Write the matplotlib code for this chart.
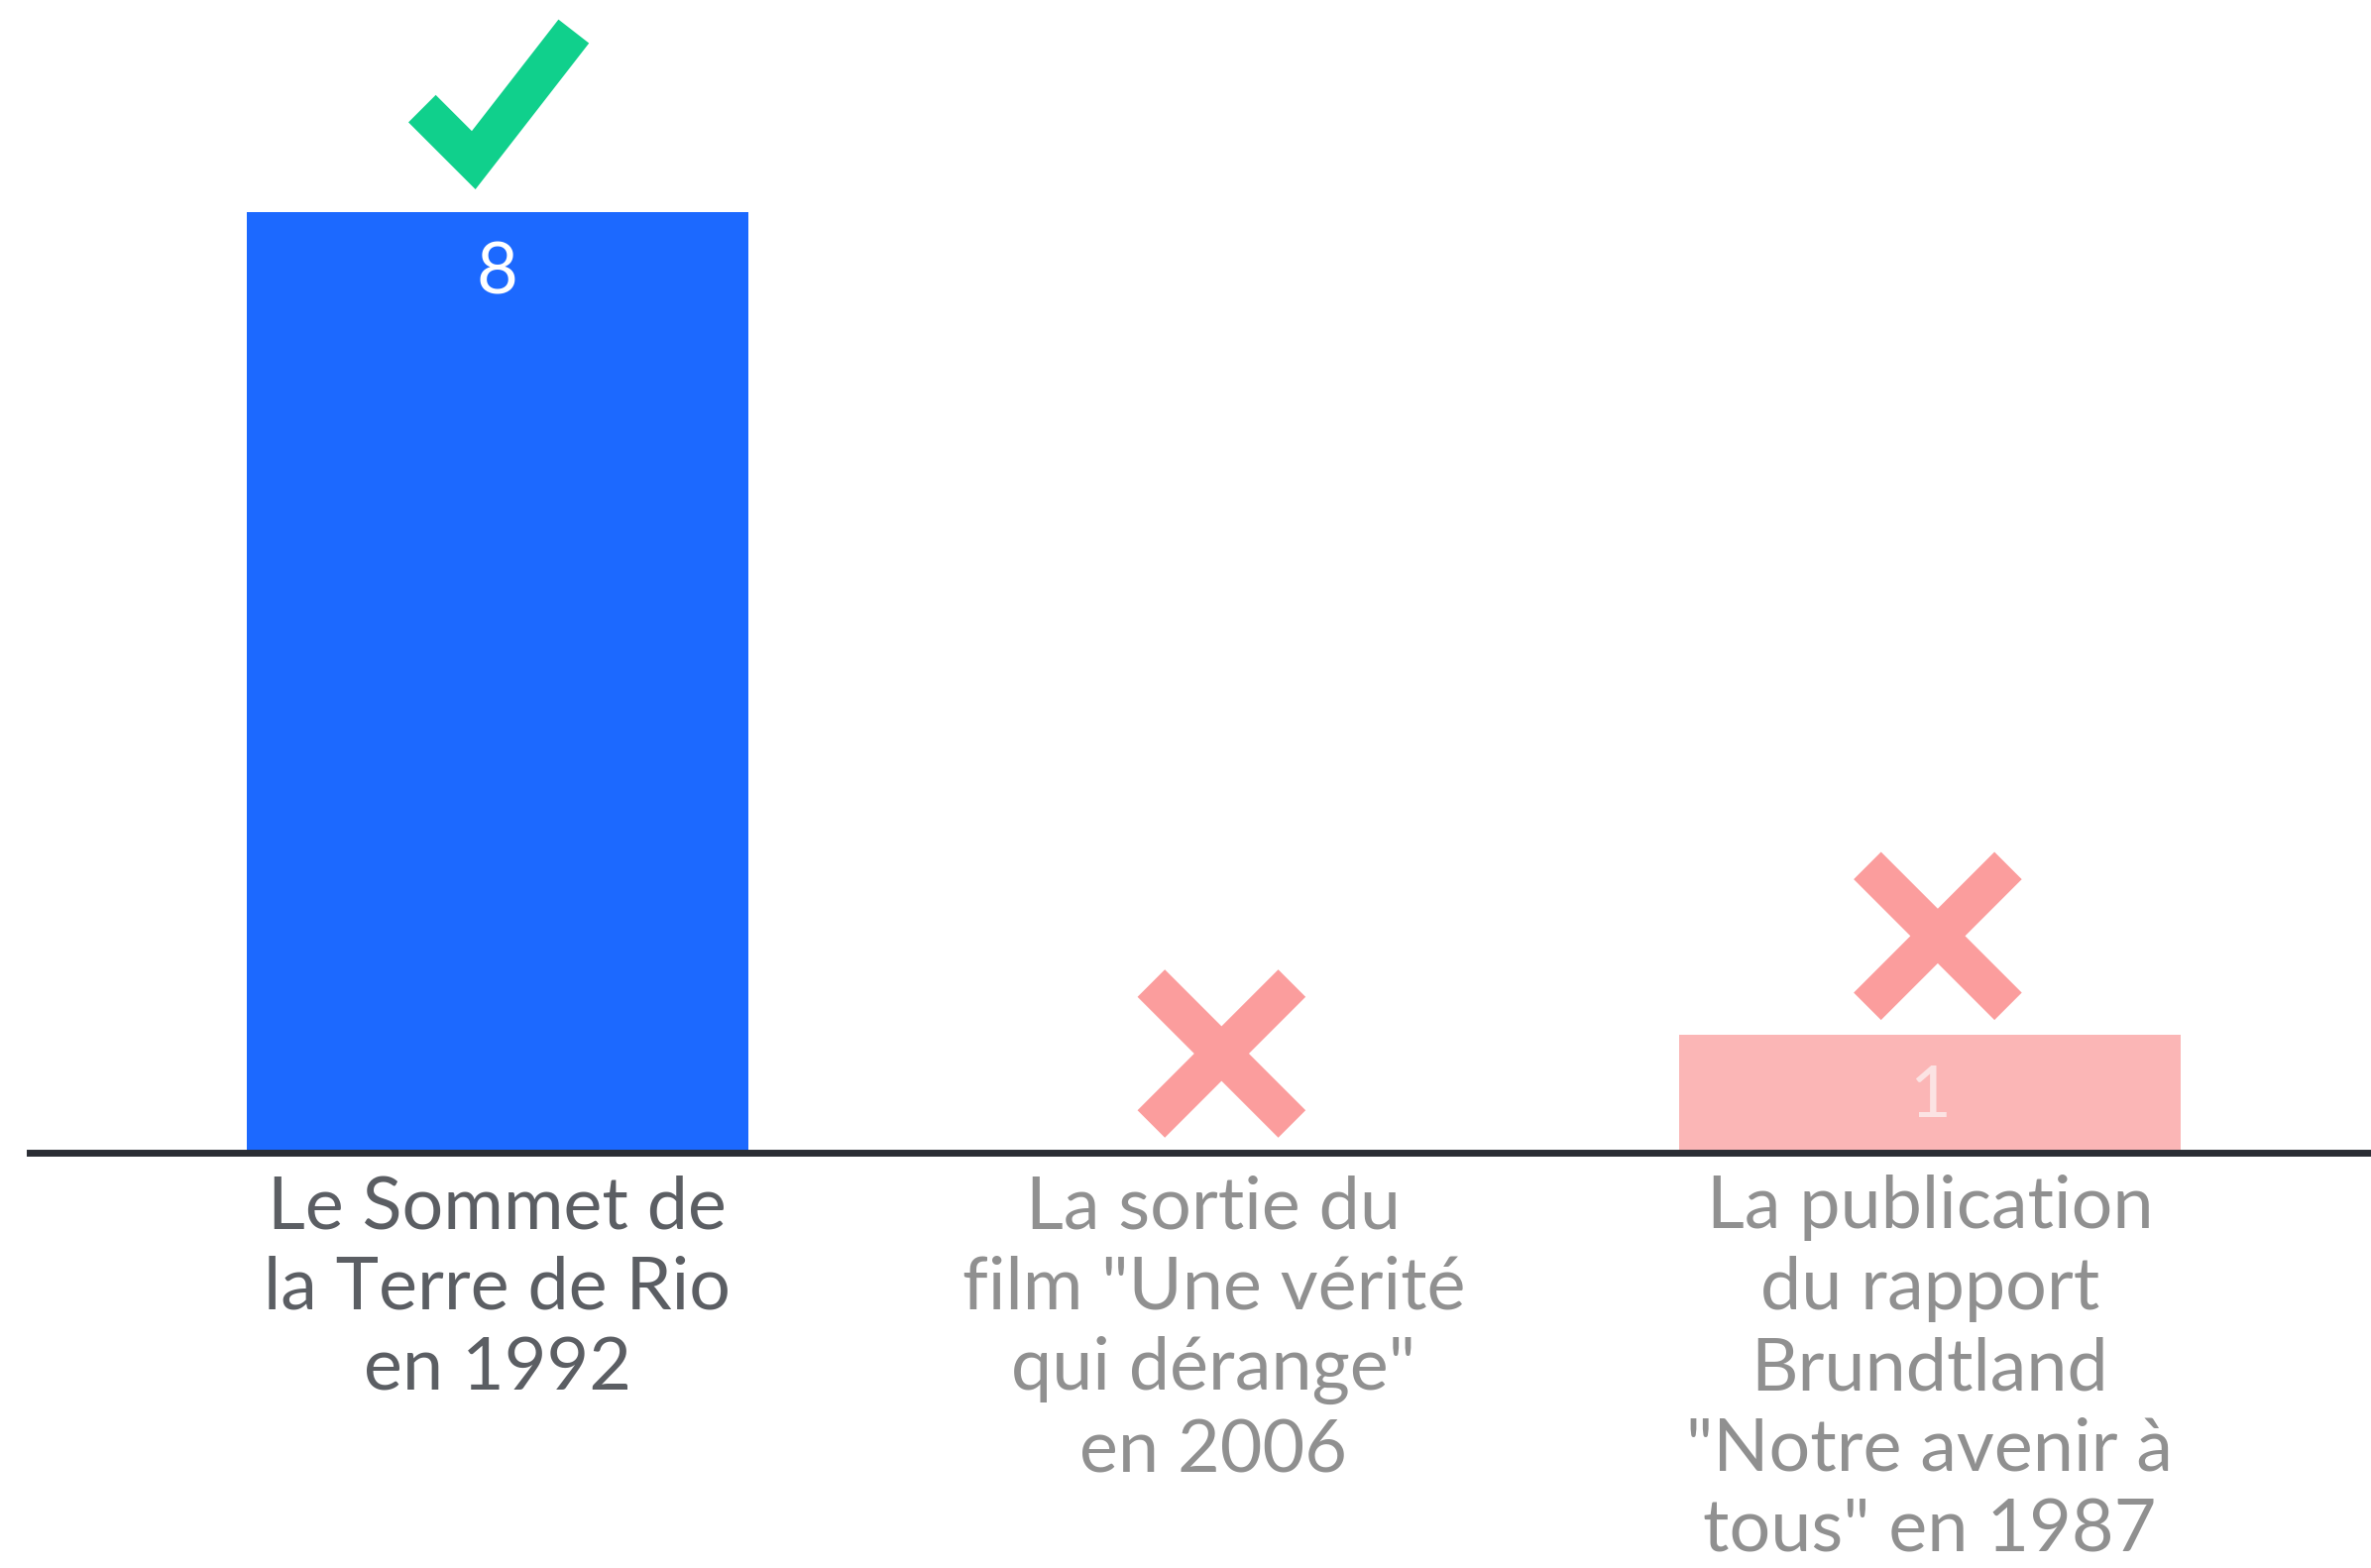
import numpy as np
import matplotlib.pyplot as plt
import matplotlib.transforms as mtransforms

############## Donnees #########
categories = ['Le Sommet de\nla Terre de Rio\nen 1992',
              'La sortie du\nfilm "Une vérité\nqui dérange"\nen 2006',
              'La publication\ndu rapport\nBrundtland\n"Notre avenir à\ntous" en 1987']
values = [8, 0, 1]
correct = [True, False, False]

bar_colors = ['#1c69ff', '#fbb6b6', '#fbb6b6']
value_colors = ['#ffffff', '#fbe3e3', '#fbe3e3']
label_colors = ['#5b5e63', '#909090', '#909090']
ok_color = '#10d08c'
ko_color = '#fb9d9d'

plt.rcParams['font.family'] = ['Lato', 'DejaVu Sans']

fig = plt.figure(figsize=(23.92, 15.82), dpi=100)
fig.patch.set_facecolor('white')
ax = fig.add_axes([30 / 2392, 419 / 1582, 1 - 30 / 2392, 1 - 419 / 1582])
x = np.arange(len(values))
ax.bar(x, values, width=0.70, color=bar_colors, zorder=1)
ax.set_xlim(-0.653, 2.616)
ax.set_ylim(0, 9.8)

for s in ['top', 'right', 'left']:
    ax.spines[s].set_visible(False)
ax.spines['bottom'].set_color('#2a2d34')
ax.spines['bottom'].set_linewidth(5)
ax.spines['bottom'].set_zorder(3)
ax.set_yticks([])
ax.set_xticks([])

# valeurs dans les barres
for xi, v, c in zip(x, values, value_colors):
    if v > 0:
        ax.annotate(str(v), (xi, v), xytext=(0, -62), textcoords='offset pixels',
                    ha='center', va='center', color=c, fontsize=52)

# etiquettes sous l'axe
for xi, lab, c in zip(x, categories, label_colors):
    ax.annotate(lab, (xi, 0), xytext=(0, -22), textcoords='offset pixels',
                ha='center', va='top', color=c, fontsize=53, linespacing=1.27,
                annotation_clip=False)

# coche / croix au-dessus des barres (formes en pixels)
check_shape = np.array([[-76, 104], [-24, 52], [77, 182]])
cross_a = np.array([[-63, 29], [79, 171]])
cross_b = np.array([[-63, 171], [79, 29]])
lw = 39 * 72 / fig.dpi
for xi, v, ok in zip(x, values, correct):
    px, py = ax.transData.transform((xi, v))
    tr = mtransforms.Affine2D().translate(px, py)
    if ok:
        ax.plot(check_shape[:, 0], check_shape[:, 1], transform=tr, color=ok_color,
                lw=lw, solid_capstyle='butt', solid_joinstyle='miter', clip_on=False)
    else:
        for arm in (cross_a, cross_b):
            ax.plot(arm[:, 0], arm[:, 1], transform=tr, color=ko_color,
                    lw=lw, solid_capstyle='butt', clip_on=False)

fig.savefig('out.png', dpi=100, facecolor='white')
